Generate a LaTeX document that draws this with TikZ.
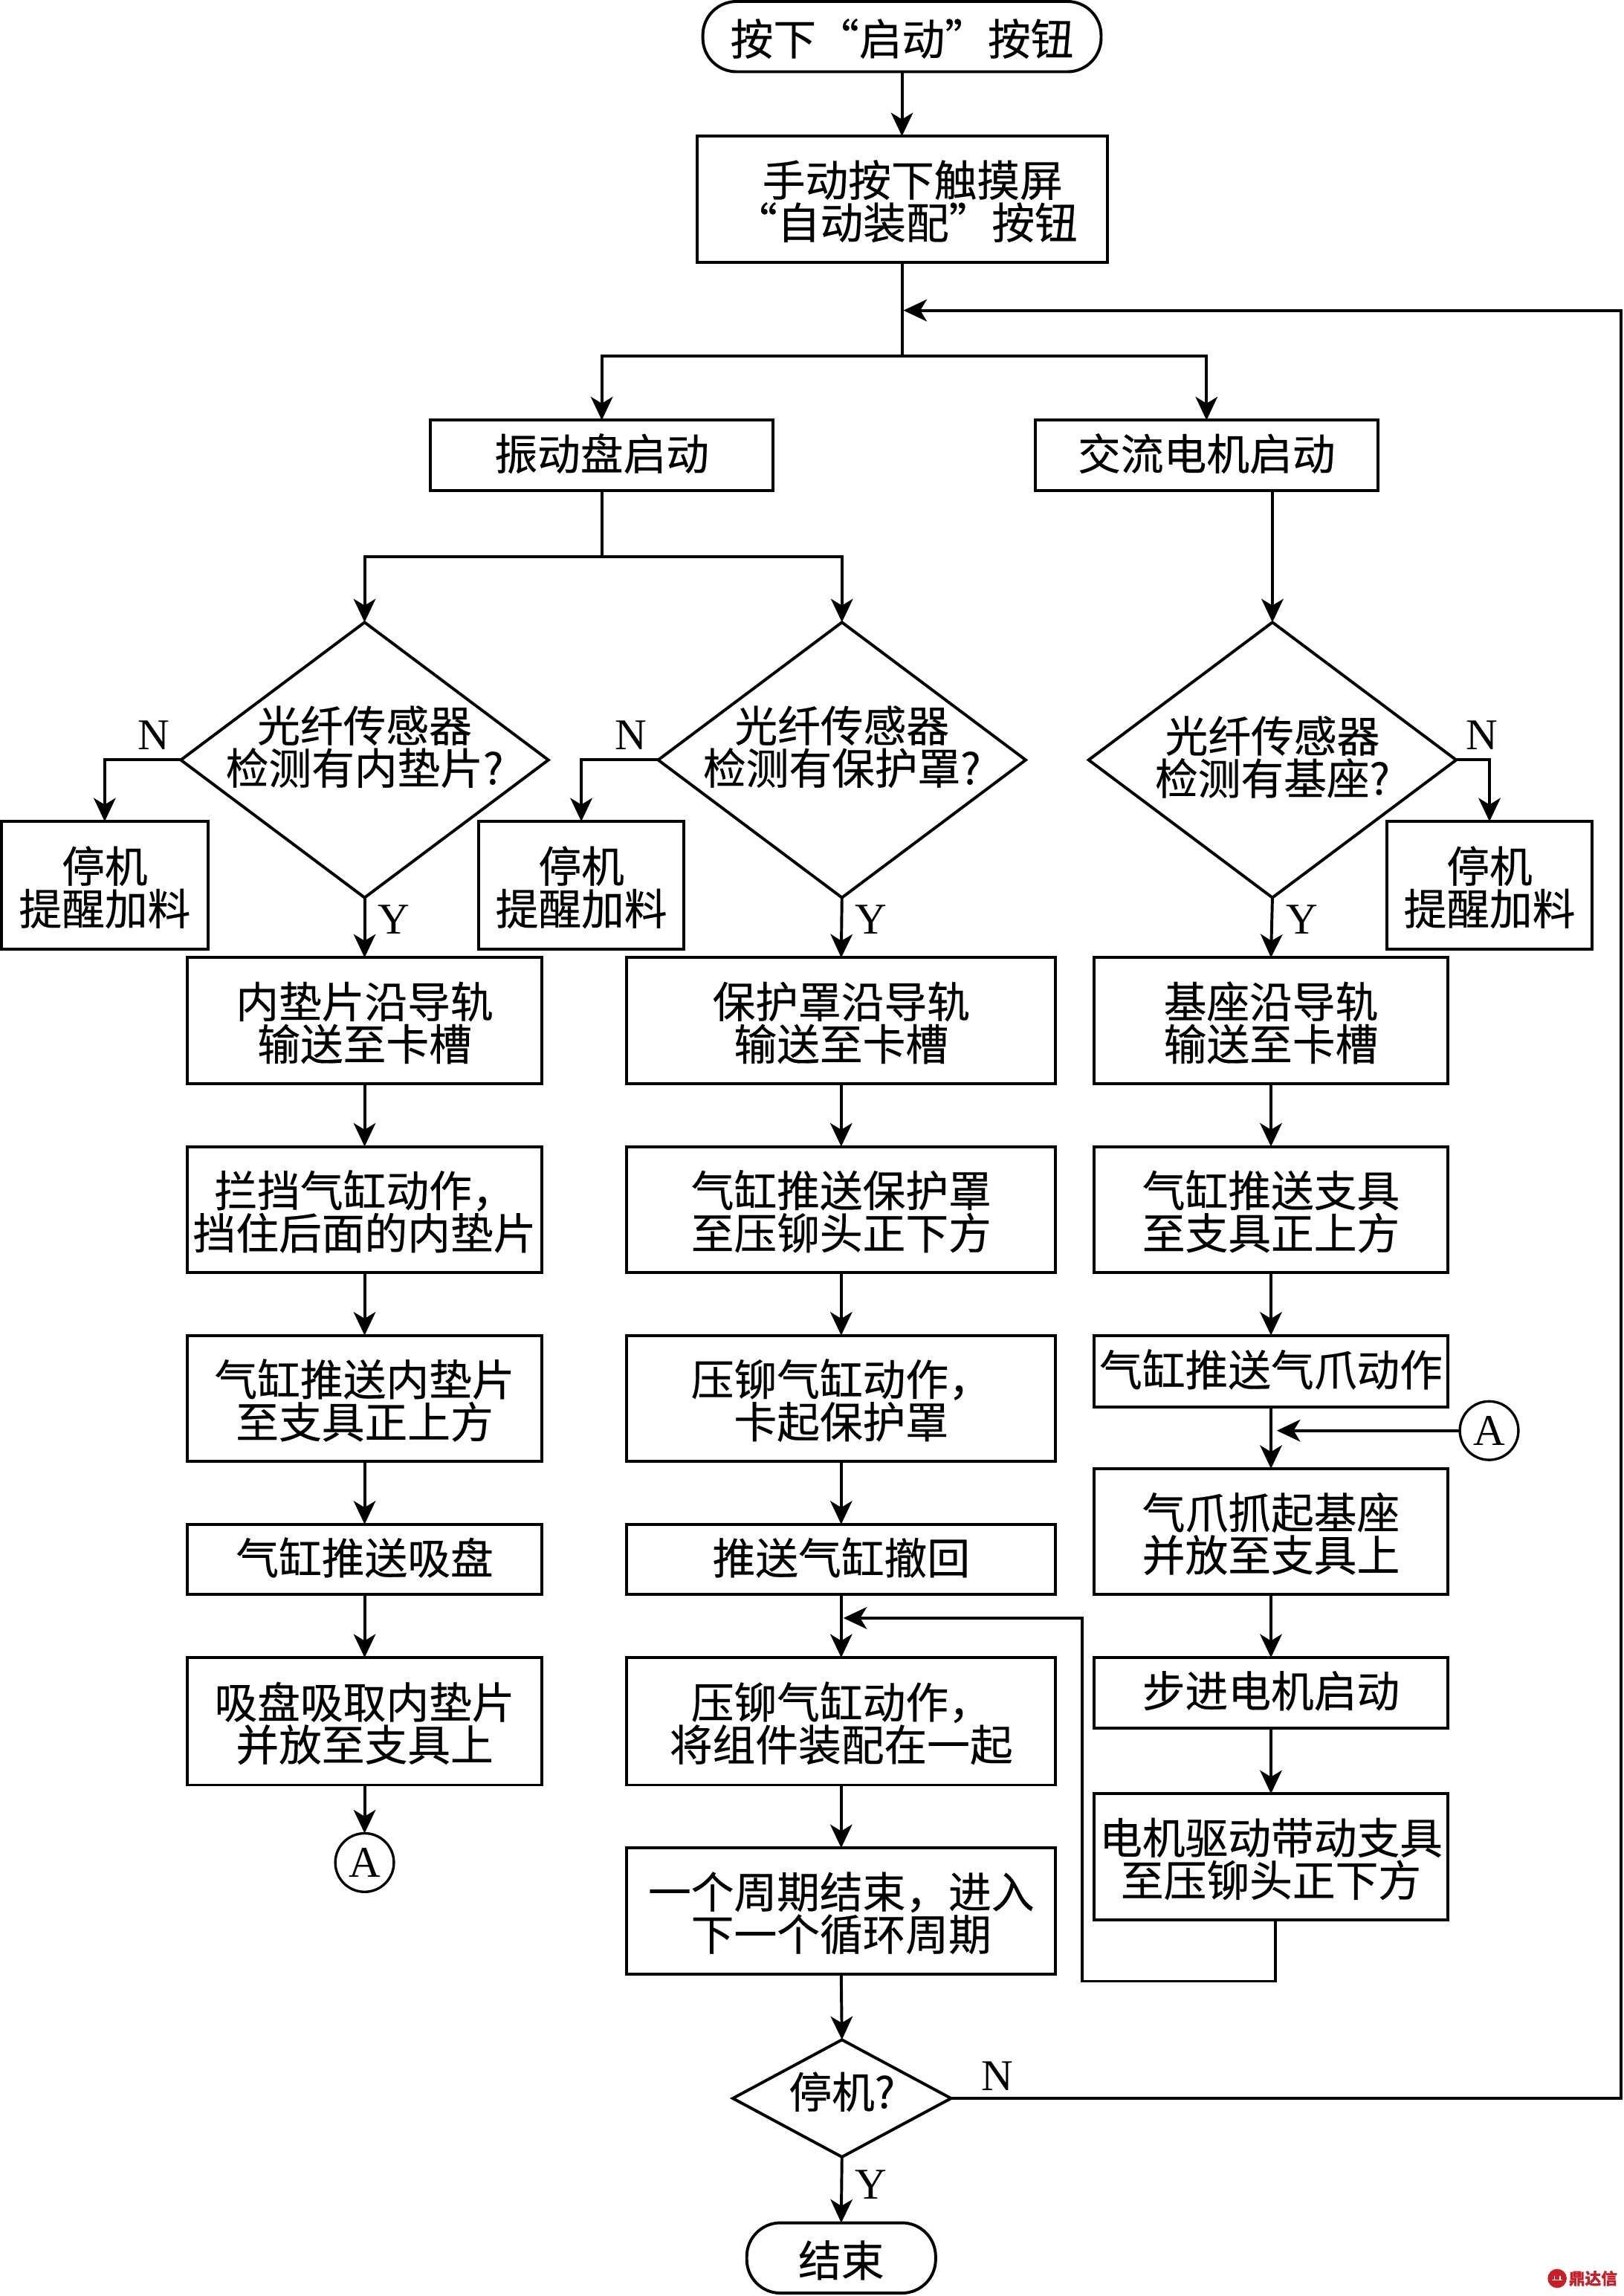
\documentclass[tikz,border=0pt]{standalone}
\usepackage{fontspec}
\setmainfont{Noto Sans CJK SC}[FakeBold=0.35]
\newfontfamily\latinlab{Liberation Serif}
\usetikzlibrary{arrows.meta,shapes.geometric}
\lineskiplimit=-1000pt
\definecolor{wm}{RGB}{200,30,40}
\newcommand{\T}{\rule{0pt}{27.6pt}}
\newcommand{\B}{\rule[-5pt]{0pt}{0pt}}
\tikzset{
  x=1pt,y=-1pt,
  txt/.style={inner sep=0pt,outer sep=0pt,align=center,font=\fontsize{29.3}{29}\selectfont},
  pbox/.style={txt,draw=black,line width=2pt,fill=white},
  term/.style={pbox,rounded corners=23pt},
  dia/.style={draw=black,line width=2pt,shape=diamond,inner sep=0pt,outer sep=0pt,shape aspect=1},
  conn/.style={draw=black,line width=2pt},
  flow/.style={conn,-{Stealth[length=16pt,width=15pt,inset=4.5pt]}},
  lab/.style={inner sep=0pt,font=\latinlab\fontsize{30}{30}\selectfont},
  cir/.style={circle,draw=black,line width=1.7pt,minimum size=40pt,inner sep=0pt,outer sep=0pt,font=\latinlab\fontsize{30}{30}\selectfont},
}
\newcommand{\bx}[6][pbox]{\node[#1,minimum width={(#5-#3)*1pt},minimum height={(#6-#4)*1pt}] (#2) at ({(#3+#5)/2},{(#4+#6)/2})}
\newcommand{\dm}[5]{\node[dia,minimum width=#4pt,minimum height=#5pt] (#1) at (#2,#3) {}}
\begin{document}
\begin{tikzpicture}
\useasboundingbox (0,0) rectangle (1109,1568);
% top
\bx[term]{start}{480}{1}{752}{49} {\T 按下“启动”按钮};
\bx{manual}{476}{93}{756.5}{179} {\T\hspace*{14pt}手动按下触摸屏\\\hspace*{5pt}“自动装配”按钮};
\bx{vib}{294}{287}{528}{335} {\B 振动盘启动};
\bx{ac}{707}{287}{941}{335} {\B 交流电机启动};
% diamonds
\dm{dl}{249}{519}{251}{188};
\dm{dm}{575}{519}{251}{188};
\dm{dr}{869}{519}{251}{188};
\node[txt] (tdl) at (249,508.5) {\T 光纤传感器\\检测有内垫片?};
\node[txt] (tdm) at (575,508.5) {\T 光纤传感器\\检测有保护罩?};
\node[txt] (tdr) at (869,515.5) {\T 光纤传感器\\检测有基座?};
% stop boxes
\bx{sl}{1}{561}{142}{648} {\T 停机\\提醒加料};
\bx{sm}{327}{561}{467}{648} {\T 停机\\提醒加料};
\bx{sr}{947}{561}{1087.5}{648} {\T 停机\\提醒加料};
% left column
\bx{l1}{128}{654}{370}{740} {\T 内垫片沿导轨\\输送至卡槽};
\bx{l2}{128}{783}{370}{869} {\T 拦挡气缸动作，\\挡住后面的内垫片};
\bx{l3}{128}{912}{370}{998} {\T 气缸推送内垫片\\至支具正上方};
\bx{l4}{128}{1041}{370}{1089} {\B 气缸推送吸盘};
\bx{l5}{128}{1132}{370}{1219} {\T 吸盘吸取内垫片\\并放至支具上};
\node[cir] (al) at (249,1272) {A};
% middle column
\bx{m1}{428}{654}{721}{740} {\T 保护罩沿导轨\\输送至卡槽};
\bx{m2}{428}{783}{721}{869} {\T 气缸推送保护罩\\至压铆头正下方};
\bx{m3}{428}{912}{721}{998} {\T 压铆气缸动作，\\卡起保护罩};
\bx{m4}{428}{1041}{721}{1089} {\B 推送气缸撤回};
\bx{m5}{428}{1132}{721}{1219} {\T 压铆气缸动作，\\将组件装配在一起};
\bx{m6}{428}{1262}{721}{1348} {\T 一个周期结束，进入\\下一个循环周期};
% right column
\bx{r1}{747}{654}{989}{740} {\T 基座沿导轨\\输送至卡槽};
\bx{r2}{747}{783}{989}{869} {\T 气缸推送支具\\至支具正上方};
\bx{r3}{747}{912}{989}{961} {\B 气缸推送气爪动作};
\bx{r4}{747}{1003}{989}{1089} {\T 气爪抓起基座\\并放至支具上};
\bx{r5}{747}{1132}{989}{1180} {\B 步进电机启动};
\bx{r6}{747}{1225}{989}{1311} {\T 电机驱动带动支具\\至压铆头正下方};
\node[cir] (ar) at (1017,977) {A};
% stop decision and end
\dm{ds}{575}{1433}{149}{80};
\node[txt] (tds) at (575,1428.5) {停机?};
\bx[term]{end}{510}{1518}{639}{1566} {\T 结束};
% labels
\node[lab] (nl) at (105,502) {N};
\node[lab] (nm) at (431,502) {N};
\node[lab] (nr) at (1012,502) {N};
\node[lab] (yl) at (269,628) {Y};
\node[lab] (ym) at (595,628) {Y};
\node[lab] (yr) at (889,628) {Y};
\node[lab] (ns) at (681,1418) {N};
\node[lab] (ys) at (595,1492) {Y};
% junctions
\coordinate (j1) at (616,243);
\coordinate (j2) at (411,380);
\coordinate (jloop) at (617,212);
\coordinate (cloop) at (1107,212);
\coordinate (jA) at (872,977);
\coordinate (jret) at (576,1105);
\coordinate (rr) at (871,1353);
\coordinate (rl) at (739,1353);
\coordinate (rt) at (739,1105);
% connectors
\draw[flow] (start.south) -- (manual.north -| start.south);
\draw[conn] (manual.south -| start.south) -- (j1);
\draw[flow] (j1) -| (vib.north);
\draw[flow] (j1) -| (ac.north);
\draw[conn] (vib.south) -- (j2);
\draw[flow] (j2) -| (dl.north);
\draw[flow] (j2) -| (dm.north);
\draw[flow] (ac.south -| dr.north) -- (dr.north);
\draw[flow] (dl.west) -| (sl.north);
\draw[flow] (dm.west) -| (sm.north);
\draw[flow] (dr.east) -| (sr.north);
\draw[flow] (dl.south) -- (l1.north);
\draw[flow] (dm.south) -- (m1.north);
\draw[flow] (dr.south) -- (r1.north);
\foreach \a/\b in {l1/l2,l2/l3,l3/l4,l4/l5,m1/m2,m2/m3,m3/m4,m4/m5,m5/m6,r1/r2,r2/r3,r3/r4,r4/r5,r5/r6}
  \draw[flow] (\a.south) -- (\b.north);
\draw[flow] (l5.south) -- (al.north);
\draw[flow] (ar.west) -- (jA);
\draw[flow] (m6.south) -- (ds.north);
\draw[flow] (ds.south) -- (end.north);
\draw[flow] (ds.east) -| (cloop) -- (jloop);
\draw[flow] (r6.south -| rr) -- (rr) -- (rl) -- (rt) -- (jret);
% watermark
\node[circle,fill=wm,minimum size=13pt,inner sep=0pt] (wmc) at (1063.5,1556) {};
\draw[white,line width=0.7pt] ([xshift=-3.5pt,yshift=-1pt]wmc.center) -- ([xshift=3.5pt,yshift=-1pt]wmc.center) ([xshift=-2pt,yshift=1.5pt]wmc.center) -- ([xshift=-2pt,yshift=-1pt]wmc.center) ([xshift=2pt,yshift=1.5pt]wmc.center) -- ([xshift=2pt,yshift=-1pt]wmc.center);
\node[inner sep=0pt,text=wm,font=\bfseries\fontsize{11}{11}\selectfont] (wmt) at (1088,1556) {鼎达信};
\end{tikzpicture}
\end{document}
